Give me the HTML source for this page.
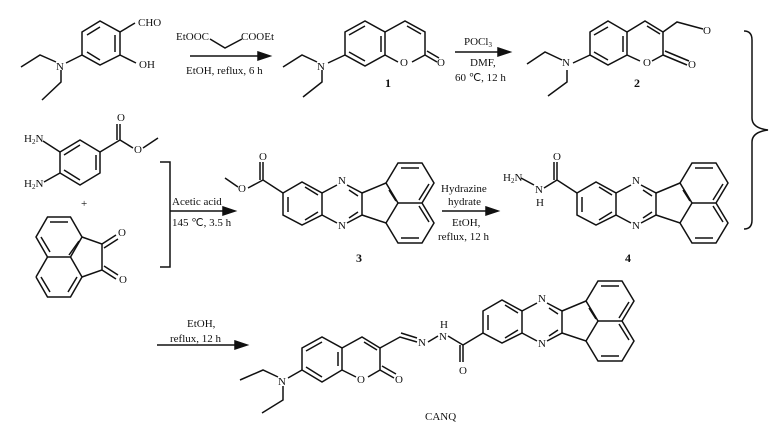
<!DOCTYPE html>
<html><head><meta charset="utf-8"><style>
html,body{margin:0;padding:0;background:#fff;}
svg{display:block;}
text{font-family:"Liberation Serif",serif;font-size:11px;fill:#111;}
.b{font-weight:bold;font-size:12px;}
</style></head><body>
<svg width="779" height="427" viewBox="0 0 779 427" xmlns="http://www.w3.org/2000/svg">
<defs>
<g id="core" fill="none" stroke="#111" stroke-width="1.5">
<path d="M283,193 L302,182 L322,193 L322,215 L302,225 L283,215 Z"/>
<path d="M288,197 L288,212 M305,187 L318,195 M305,220 L318,212"/>
<path d="M322,193 L337,185 M347,185 L362,193 L362,215 L347,223 M337,223 L322,215"/>
<path d="M349,190 L358,196 M349,218 L358,212"/>
<path d="M362,193 L386,183 L398,203 L386,223 L362,215"/>
<path d="M386,183 L398,163 L422,163 L434,183 L422,203 L398,203 M386,223 L398,243 L422,243 L434,223 L422,203"/>
<path d="M401,168 L419,168 M429,184 L419,200 M389,190 L396,201 M401,238 L419,238 M429,222 L419,206"/>
</g>
</defs>
<g fill="none" stroke="#111" stroke-width="1.5">
<path d="M82,32 L100,21 L120,32 L120,55 L100,65 L82,55 Z M87,35 L100,27 M115,35 L115,52 M87,52 L100,60"/>
<path d="M120,32 L135,23 M120,55 L136,63"/>
<path d="M82,55 L66,63 M56,62 L40,55 L21,67 M61,70 L61,82 L42,100"/>
<path d="M190,56 L258,56"/><path d="M258,52 L270,56 L258,60 Z" fill="#111"/>
<path d="M210,39 L225,48 L242,39"/>
<path d="M345,32 L365,21 L385,32 L385,55 L365,66 L345,55 Z M349,35 L365,26 M381,36 L381,52 M349,52 L365,61"/>
<path d="M385,32 L405,21 L425,32 L425,55 M425,55 L412,62 M398,62 L385,55 M407,26 L421,34 M425,55 L437,62 M427,51 L439,58"/>
<path d="M345,55 L328,63 M317,62 L302,55 L283,67 M322,70 L322,82 L303,97"/>
<path d="M455,52 L498,52"/><path d="M498,48 L510,52 L498,56 Z" fill="#111"/>
<path d="M590,32 L608,21 L627,32 L627,55 L608,65 L590,55 Z M594,35 L608,27 M623,36 L623,52 M594,52 L608,60"/>
<path d="M627,32 L645,21 L663,32 L663,55 M663,55 L652,61 M640,61 L627,55 M647,26 L660,34 M663,55 L687,65 M665,51 L689,61"/>
<path d="M663,32 L677,22 L703,29"/>
<path d="M590,55 L573,63 M562,60 L545,52 L527,64 M567,70 L567,82 L548,96"/>
<path d="M744,31 Q752,31 752,40 L752,118 Q752,128 768,130 Q752,132 752,142 L752,220 Q752,229 744,229"/>
<path d="M80,140 L100,152 L100,173 L80,185 L60,173 L60,152 Z M96,155 L96,170 M64,155 L80,145 M64,170 L80,180"/>
<path d="M100,152 L120,140 L120,124 M117,140 L117,124 M120,140 L133,148 M143,148 L158,138"/>
<path d="M43,141 L60,152 M44,182 L60,173"/>
<path d="M36,237 L47.5,217 L70.5,217 L82,237 L70.5,257 L47.5,257 Z M50,222 L68,222 M41,237 L50,252"/>
<path d="M36,277 L47.5,257 M70.5,257 L82,277 L70.5,297 L47.5,297 L36,277 M41,277 L50,292 M77,277 L68,292"/>
<path d="M82,237 L102,244 L102,270 L82,277 M79,241 L69,255 M102,244 L116,235 M104,248 L118,239 M102,270 L116,279 M104,266 L118,275"/>
<path d="M160,162 L170,162 L170,267 L160,267"/>
<path d="M170,211 L223,211"/><path d="M223,207 L235,211 L223,215 Z" fill="#111"/>
<path d="M283,193 L263,180 L263,162 M260,180 L260,162 M263,180 L248,188 M238,187 L225,178"/>
<path d="M442,211 L486,211"/><path d="M486,207 L498,211 L486,215 Z" fill="#111"/>
<!-- hydrazide on 4 -->
<path d="M577,193 L557,180 L557,162 M554,180 L554,162 M557,180 L544,188 M534,185 L521,178"/>
<path d="M157,345 L235,345"/><path d="M235,341 L247,345 L235,349 Z" fill="#111"/>
<path d="M302,348 L322,337 L342,348 L342,370 L322,382 L302,370 Z M306,351 L322,342 M338,352 L338,366 M306,367 L322,377"/>
<path d="M342,348 L362,337 L380,348 L380,370 M380,370 L368,377 M356,377 L342,370 M364,342 L377,350 M380,370 L394,378 M382,366 L396,374"/>
<path d="M302,370 L288,378 M278,377 L263,370 L240,380 M283,386 L283,400 L262,413"/>
<path d="M380,348 L400,337 L417,342 M401,333 L417,338 M428,342 L438,336 M448,336 L463,345 L463,362 M460,345 L460,362 M463,345 L483,333"/>
</g>
<use href="#core"/>
<use href="#core" transform="translate(294,0)"/>
<use href="#core" transform="translate(200,118)"/>
<text x="138" y="26">CHO</text>
<text x="139" y="68">OH</text>
<text x="56" y="70">N</text>
<text x="176" y="40">EtOOC</text>
<text x="241" y="40">COOEt</text>
<text x="186" y="74">EtOH, reflux, 6 h</text>
<text x="317" y="70">N</text>
<text x="400" y="66">O</text>
<text x="437" y="66">O</text>
<text class="b" x="385" y="87">1</text>
<text x="464" y="45">POCl<tspan font-size="7" dy="2">3</tspan></text>
<text x="470" y="66">DMF,</text>
<text x="455" y="81">60 ℃, 12 h</text>
<text x="562" y="66">N</text>
<text x="643" y="66">O</text>
<text x="688" y="68">O</text>
<text x="703" y="34">O</text>
<text class="b" x="634" y="87">2</text>
<text x="24" y="142">H<tspan font-size="7" dy="2">2</tspan><tspan dy="-2">N</tspan></text>
<text x="24" y="187">H<tspan font-size="7" dy="2">2</tspan><tspan dy="-2">N</tspan></text>
<text x="117" y="121">O</text>
<text x="134" y="153">O</text>
<text x="81" y="207">+</text>
<text x="118" y="236">O</text>
<text x="119" y="283">O</text>
<text x="172" y="205">Acetic acid</text>
<text x="172" y="226">145 ℃, 3.5 h</text>
<text x="338" y="184">N</text>
<text x="338" y="229">N</text>
<text x="259" y="160">O</text>
<text x="238" y="192">O</text>
<text class="b" x="356" y="262">3</text>
<text x="441" y="192">Hydrazine</text>
<text x="448" y="205">hydrate</text>
<text x="452" y="226">EtOH,</text>
<text x="438" y="240">reflux, 12 h</text>
<text x="632" y="184">N</text>
<text x="632" y="229">N</text>
<text x="553" y="160">O</text>
<text x="535" y="193">N</text>
<text x="536" y="206">H</text>
<text x="503" y="181">H<tspan font-size="7" dy="2">2</tspan><tspan dy="-2">N</tspan></text>
<text class="b" x="625" y="262">4</text>
<text x="187" y="327">EtOH,</text>
<text x="170" y="342">reflux, 12 h</text>
<text x="278" y="385">N</text>
<text x="357" y="383">O</text>
<text x="395" y="383">O</text>
<text x="418" y="346">N</text>
<text x="439" y="340">N</text>
<text x="440" y="328">H</text>
<text x="459" y="374">O</text>
<text x="538" y="302">N</text>
<text x="538" y="347">N</text>
<text x="425" y="420" font-size="10">CANQ</text>
</svg>
</body></html>
